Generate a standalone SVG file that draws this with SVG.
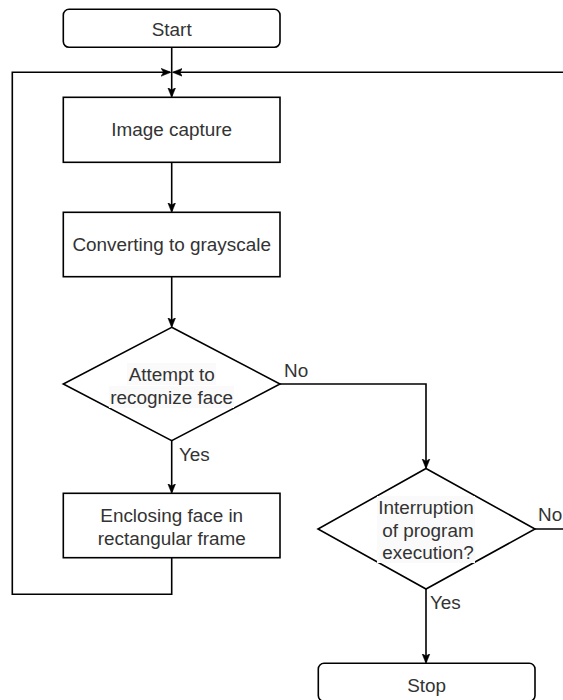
<svg xmlns="http://www.w3.org/2000/svg" width="563" height="700" viewBox="0 0 563 700">
<style>
.shape{fill:#ffffff;stroke:#000000;stroke-width:1.6}
.conn{fill:none;stroke:#000000;stroke-width:1.6}
.t{font-family:"Liberation Sans",Arial,sans-serif;font-size:18.9px;fill:#333333}
.c{text-anchor:middle}
.lbg{fill:#fafafa;stroke:none}
</style>
<defs>
<marker id="arr" markerUnits="userSpaceOnUse" markerWidth="10" markerHeight="10" viewBox="0 0 10 10" refX="9" refY="5" orient="auto">
<path d="M0,1 L10,5 L0,9 L2.5,5 z" fill="#000000" stroke="#000000" stroke-width="0.5"/>
</marker>
</defs>
<rect width="563" height="700" fill="#ffffff"/>
<g id="connectors">
<path class="conn" d="M171.7,47.3 V96.5" marker-end="url(#arr)"/>
<path class="conn" d="M171.7,162.3 V211.5" marker-end="url(#arr)"/>
<path class="conn" d="M171.7,276.7 V326.5" marker-end="url(#arr)"/>
<path class="conn" d="M171.7,440.7 V492.5" marker-end="url(#arr)"/>
<path class="conn" d="M171.7,557.7 V594.3 H12.3 V72.3 H170" marker-end="url(#arr)"/>
<path class="conn" d="M280,384 H426 V467.7" marker-end="url(#arr)"/>
<path class="conn" d="M535,529 H580 V72.3 H173.4" marker-end="url(#arr)"/>
<path class="conn" d="M426,589 V662.5" marker-end="url(#arr)"/>
<text class="t" x="179" y="460.5">Yes</text>
<text class="t" x="284" y="376.5">No</text>
<text class="t" x="538" y="520.5">No</text>
<text class="t" x="430" y="608.5">Yes</text>
</g>
<g id="start">
<rect class="shape" x="63.3" y="9.3" width="216.7" height="38" rx="5.7"/>
<text class="t c" x="171.7" y="35.5">Start</text>
</g>
<g id="image-capture">
<rect class="shape" x="63.3" y="97.3" width="216.7" height="65"/>
<text class="t c" x="171.7" y="136">Image capture</text>
</g>
<g id="grayscale">
<rect class="shape" x="63.3" y="212.3" width="216.7" height="64.4"/>
<text class="t c" x="171.7" y="251">Converting to grayscale</text>
</g>
<g id="recognize">
<polygon class="shape" points="171.7,327.3 280,384 171.7,440.7 63.3,384"/>
<rect class="lbg" x="127" y="363" width="89" height="22"/>
<rect class="lbg" x="109" y="386" width="125" height="22"/>
<text class="t c" x="171.7" y="380.5">Attempt to</text>
<text class="t c" x="171.7" y="403.5">recognize face</text>
</g>
<g id="enclosing">
<rect class="shape" x="63.3" y="493.3" width="216.7" height="64.4"/>
<text class="t c" x="171.7" y="521.5">Enclosing face in</text>
<text class="t c" x="171.7" y="544.5">rectangular frame</text>
</g>
<g id="interruption">
<polygon class="shape" points="426,468.5 535,529 426,589 318,529"/>
<rect class="lbg" x="377" y="496" width="98" height="67"/>
<text class="t c" x="426" y="513.5">Interruption</text>
<text class="t c" x="428" y="536.5">of program</text>
<text class="t c" x="428" y="558.5">execution?</text>
</g>
<g id="stop">
<rect class="shape" x="318.3" y="663.3" width="216.7" height="38" rx="5.7"/>
<text class="t c" x="426.7" y="691.5">Stop</text>
</g>
</svg>
